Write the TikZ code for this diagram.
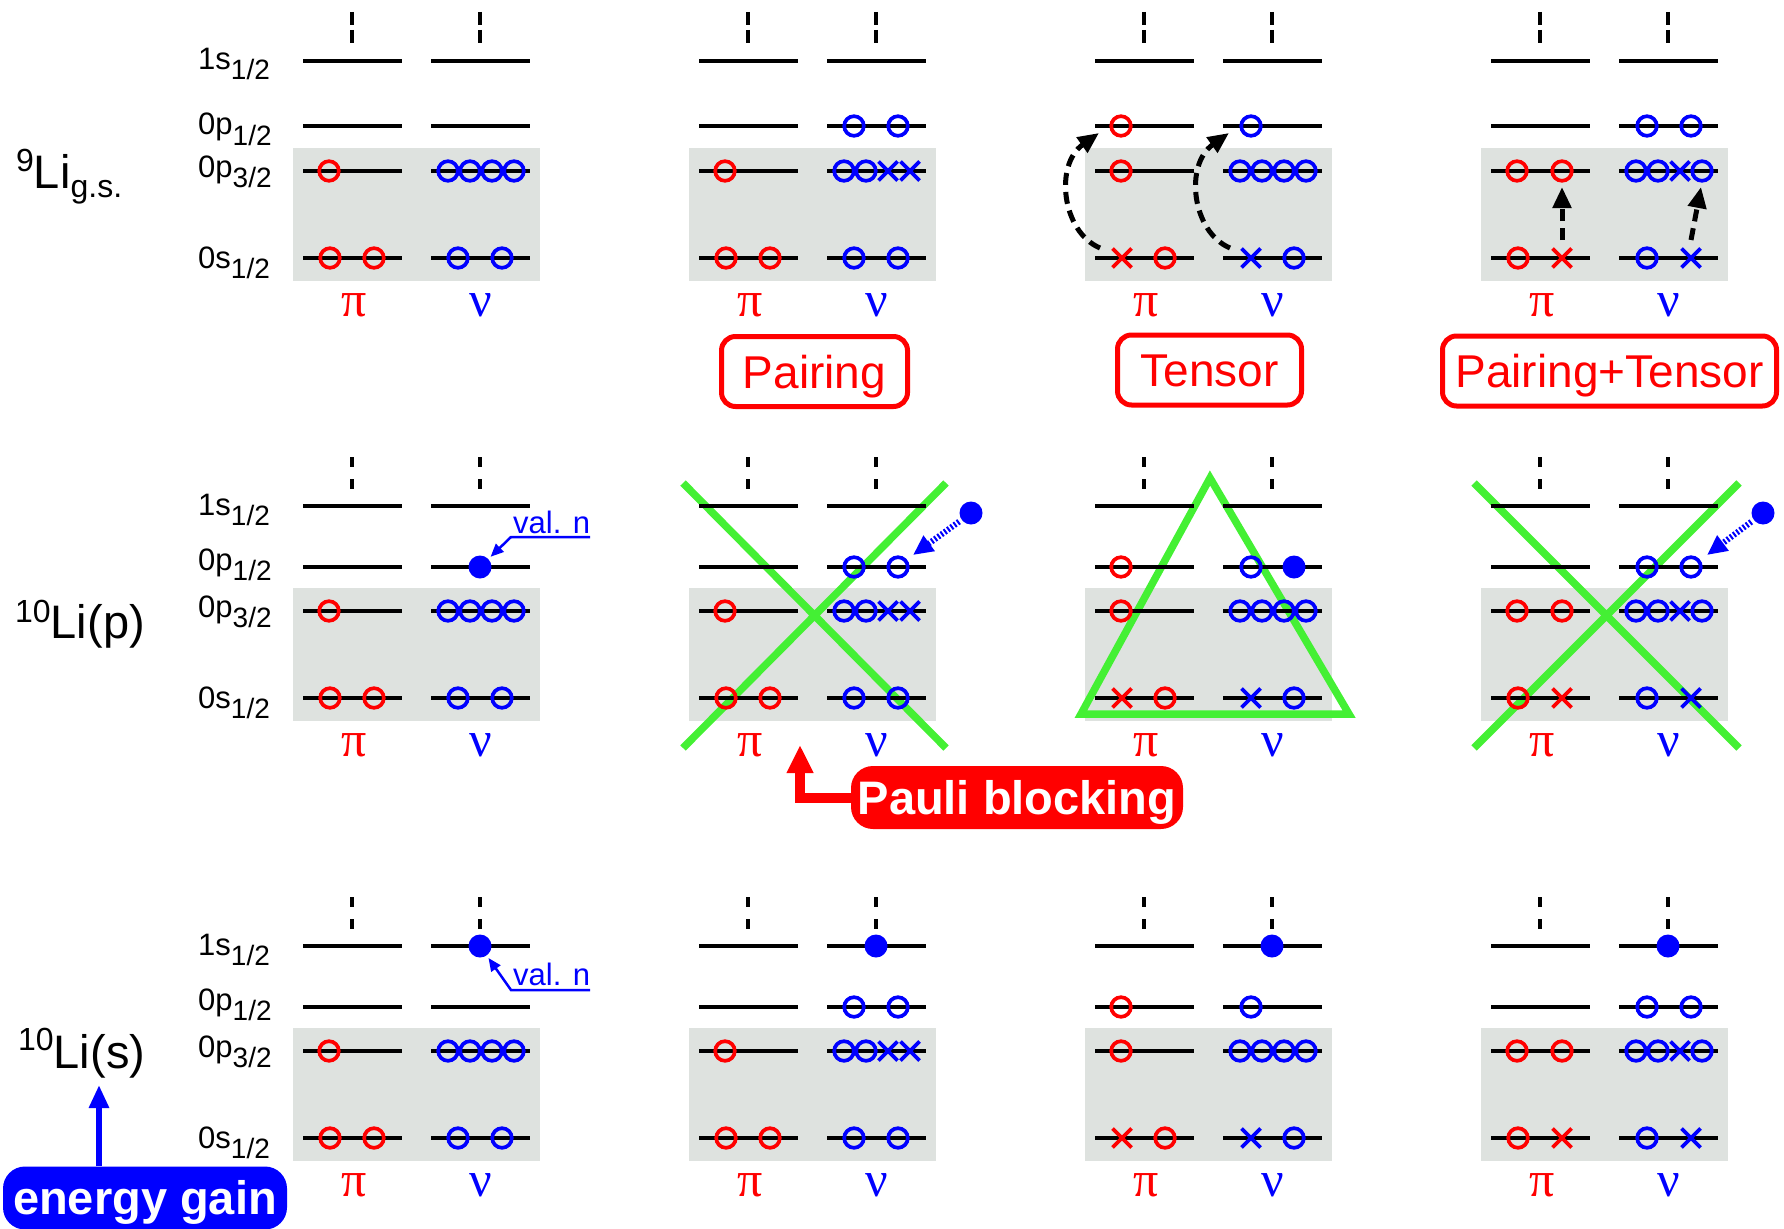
\documentclass[tikz,border=0pt]{standalone}
\usepackage{fontspec}
\setmainfont{Liberation Sans}
\newfontfamily\greekfont{Liberation Serif}
\usetikzlibrary{arrows.meta}

\definecolor{pired}{RGB}{255,0,0}
\definecolor{nublue}{RGB}{0,0,255}
\definecolor{coregray}{RGB}{222,226,223}
\definecolor{blockgreen}{RGB}{68,240,52}

\newcommand{\fsz}[1]{\fontsize{#1}{#1}\selectfont}
\newcommand{\lowsub}[1]{\raisebox{-10pt}{\fsz{28}#1}}

% occupied orbits (O) and vacancies (X)
\newcommand{\prO}[2]{\draw[pired,orbmark] (#1,#2) circle[radius=9.8pt];}
\newcommand{\nuO}[2]{\draw[nublue,orbmark] (#1,#2) circle[radius=9.8pt];}
\newcommand{\prX}[2]{\draw[pired,orbmark] ({#1-9.5},{#2-9.5}) -- ({#1+9.5},{#2+9.5}) ({#1-9.5},{#2+9.5}) -- ({#1+9.5},{#2-9.5});}
\newcommand{\nuX}[2]{\draw[nublue,orbmark] ({#1-9.5},{#2-9.5}) -- ({#1+9.5},{#2+9.5}) ({#1-9.5},{#2+9.5}) -- ({#1+9.5},{#2-9.5});}

% shaded core of one level scheme
\newcommand{\corebox}{\fill[coregray] (293,148) rectangle (540,281);}

% level lines, continuation dashes and the pi / nu column labels
% #1 1s1/2 height, #2 0p1/2 height, #3-#6 dash ends, #7 name suffix
\newcommand{\levels}[7]{%
  \foreach \cx in {352,480}{%
    \draw[shellline] ({\cx-49},#1) -- ({\cx+50},#1) ({\cx-49},#2) -- ({\cx+50},#2)
      ({\cx-49},171) -- ({\cx+50},171) ({\cx-49},258) -- ({\cx+50},258);
    \draw[dashline] (\cx,#3) -- (\cx,#4) (\cx,#5) -- (\cx,#6);
  }
  \node[pilab] (pi#7) at (354,305) {π};
  \node[nulab] (nu#7) at (481,305) {ν};
}

% occupations of the four configurations (#1 = height of 0p1/2)
\newcommand{\occgs}[1]{%
  \prO{329}{171}\prO{330}{258}\prO{374}{258}
  \nuO{448}{171}\nuO{470}{171}\nuO{492}{171}\nuO{514}{171}
  \nuO{458}{258}\nuO{502}{258}}
\newcommand{\occpair}[1]{%
  \prO{329}{171}\prO{330}{258}\prO{374}{258}
  \nuO{458}{#1}\nuO{502}{#1}
  \nuO{448}{171}\nuO{470}{171}\nuX{492}{171}\nuX{514}{171}
  \nuO{458}{258}\nuO{502}{258}}
\newcommand{\occtensor}[1]{%
  \prO{329}{#1}\prO{329}{171}\prX{330}{258}\prO{373}{258}
  \nuO{459}{#1}
  \nuO{448}{171}\nuO{470}{171}\nuO{492}{171}\nuO{514}{171}
  \nuX{459}{258}\nuO{502}{258}}
\newcommand{\occboth}[1]{%
  \prO{329}{171}\prO{374}{171}\prO{330}{258}\prX{374}{258}
  \nuO{459}{#1}\nuO{503}{#1}
  \nuO{448}{171}\nuO{470}{171}\nuX{492}{171}\nuO{514}{171}
  \nuO{459}{258}\nuX{503}{258}}

% orbit names on the left of each row
\newcommand{\orbitnames}[5]{%
  \node[statelab] (s1#5) at (198,#1) {1s\lowsub{1/2}};
  \node[statelab] (p1#5) at (198,#2) {0p\lowsub{1/2}};
  \node[statelab] (p3#5) at (198,#3) {0p\lowsub{3/2}};
  \node[statelab] (s0#5) at (198,#4) {0s\lowsub{1/2}};
}

\begin{document}
\begin{tikzpicture}[x=1pt,y=-1pt,
  shellline/.style={line width=3.2pt},
  dashline/.style={line width=3.8pt},
  orbmark/.style={line width=3.7pt},
  pilab/.style={text=pired, font=\greekfont\fsz{50}, inner sep=0pt},
  nulab/.style={text=nublue, font=\greekfont\fsz{50}, inner sep=0pt},
  statelab/.style={anchor=base west, inner sep=0pt, font=\fsz{31}},
  nuclab/.style={anchor=base west, inner sep=0pt, font=\fsz{47}},
  veto/.style={draw=blockgreen, line width=7.5pt},
  jump/.style={line width=5pt, dash pattern=on 12pt off 7pt, -{Triangle[length=21pt,width=18pt]}},
  feed/.style={nublue, line width=6pt, dash pattern=on 2pt off 2pt, shorten <=3pt, -{Triangle[length=20pt,width=18pt]}},
  valdot/.style={circle, fill=nublue, minimum size=23pt, inner sep=0pt},
  valtext/.style={anchor=base west, inner sep=0pt, text=nublue, font=\fsz{31}},
  valline/.style={nublue, line width=2.5pt, shorten >=3pt, -{Triangle[length=13pt,width=11pt]}},
  modelbox/.style={draw=pired, line width=5pt, rounded corners=14pt, text=pired, font=\fsz{46},
    minimum height=70pt, inner sep=0pt, text height=33pt, text depth=0pt},
  tagbox/.style={rounded corners=22pt, text=white, font=\bfseries\fsz{47}, inner sep=0pt,
    text height=33pt, text depth=0pt, minimum height=63pt},
  pauliarrow/.style={pired, line width=10pt, -{Triangle[length=28pt,width=25pt]}},
  gainarrow/.style={nublue, line width=6pt, -{Triangle[length=23pt,width=19pt]}}]
\useasboundingbox (0,0) rectangle (1784,1228);

% ---------------- 9Li ground state ----------------
\node[nuclab] (liA) at (16,188) {\raisebox{17pt}{\fsz{32}9}Li\raisebox{-9pt}{\fsz{32}g.s.}};
\orbitnames{70}{135}{177}{268}{A}
\begin{scope}
  \corebox \levels{61}{126}{12}{25}{30}{43}{A1} \occgs{126}
\end{scope}
\begin{scope}[shift={(396,0)}]
  \corebox \levels{61}{126}{12}{25}{30}{43}{A2} \occpair{126}
\end{scope}
\begin{scope}[shift={(792,0)}]
  \corebox \levels{61}{126}{12}{25}{30}{43}{A3} \occtensor{126}
  \coordinate (tpS) at (308,248); \coordinate (tpE) at (307,133);
  \coordinate (tnS) at (438,248); \coordinate (tnE) at (437,133);
  \draw[jump] (tpS) .. controls (270,232) and (262,165) .. (tpE);
  \draw[jump] (tnS) .. controls (400,232) and (392,165) .. (tnE);
\end{scope}
\begin{scope}[shift={(1188,0)}]
  \corebox \levels{61}{126}{12}{25}{30}{43}{A4} \occboth{126}
  \coordinate (bpS) at (374,240); \coordinate (bpE) at (374,187);
  \coordinate (bnS) at (503,240); \coordinate (bnE) at (513,187);
  \draw[jump] (bpS) -- (bpE);
  \draw[jump] (bnS) -- (bnE);
\end{scope}

% interaction labels
\node[modelbox, minimum width=186pt] (pairing) at (814.5,371.5) {Pairing};
\node[modelbox, minimum width=184pt] (tensor) at (1209.5,370) {Tensor};
\node[modelbox, minimum width=334pt] (pairtens) at (1609.5,371) {Pairing+Tensor};

% ---------------- 10Li, valence neutron in 0p1/2 ----------------
\begin{scope}[shift={(0,440)}]
  \node[nuclab] (liB) at (15,198) {\raisebox{16pt}{\fsz{32}10}Li(p)};
  \orbitnames{75}{130}{177}{268}{B}
\end{scope}
\begin{scope}[shift={(0,440)}]
  \corebox \levels{66}{127}{17}{27}{39}{49}{B1} \occgs{127}
  \node[valdot] (vdB1) at (480,127) {};
  \node[valtext] (valB) at (513,93) {val. n};
  \coordinate (ulBr) at (590,97); \coordinate (ulBl) at (511,97);
  \draw[valline] (ulBr) -- (ulBl) -- (vdB1);
\end{scope}
\begin{scope}[shift={(396,440)}]
  \corebox
  \draw[veto] (287,43) -- (550,308) (287,308) -- (550,43);
  \levels{66}{127}{17}{27}{39}{49}{B2} \occpair{127}
  \node[valdot] (vdB2) at (575,73) {};
  \coordinate (ftB2) at (517,115);
  \draw[feed] (vdB2) -- (ftB2);
\end{scope}
\begin{scope}[shift={(792,440)}]
  \corebox
  \draw[veto, line join=miter] (418,38) -- (557,274) -- (289,274) -- cycle;
  \levels{66}{127}{17}{27}{39}{49}{B3} \occtensor{127}
  \node[valdot] (vdB3) at (502,127) {};
\end{scope}
\begin{scope}[shift={(1188,440)}]
  \corebox
  \draw[veto] (286,43) -- (551,308) (286,308) -- (551,43);
  \levels{66}{127}{17}{27}{39}{49}{B4} \occboth{127}
  \node[valdot] (vdB4) at (575,73) {};
  \coordinate (ftB4) at (519,115);
  \draw[feed] (vdB4) -- (ftB4);
\end{scope}

% Pauli blocking tag
\node[tagbox, fill=pired, minimum width=332pt] (pauli) at (1017,797.5) {Pauli blocking};
\coordinate (pauliTip) at (800,745);
\draw[pauliarrow] (pauli.west) -| (pauliTip);

% ---------------- 10Li, valence neutron in 1s1/2 ----------------
\begin{scope}[shift={(0,880)}]
  \node[nuclab] (liC) at (18,188) {\raisebox{18pt}{\fsz{32}10}Li(s)};
  \orbitnames{75}{130}{177}{268}{C}
\end{scope}
\begin{scope}[shift={(0,880)}]
  \corebox \levels{66}{127}{17}{27}{39}{49}{C1} \occgs{127}
  \node[valdot] (vdC1) at (480,66) {};
  \node[valtext] (valC) at (513,105) {val. n};
  \coordinate (ulCr) at (590,110); \coordinate (ulCl) at (511,110);
  \draw[valline] (ulCr) -- (ulCl) -- (vdC1);
\end{scope}
\begin{scope}[shift={(396,880)}]
  \corebox \levels{66}{127}{17}{27}{39}{49}{C2} \occpair{127}
  \node[valdot] (vdC2) at (480,66) {};
\end{scope}
\begin{scope}[shift={(792,880)}]
  \corebox \levels{66}{127}{17}{27}{39}{49}{C3} \occtensor{127}
  \node[valdot] (vdC3) at (480,66) {};
\end{scope}
\begin{scope}[shift={(1188,880)}]
  \corebox \levels{66}{127}{17}{27}{39}{49}{C4} \occboth{127}
  \node[valdot] (vdC4) at (480,66) {};
\end{scope}

% energy gain tag
\node[tagbox, fill=nublue, minimum width=284pt] (gain) at (145,1198) {energy gain};
\coordinate (gainTip) at (99,1085);
\draw[gainarrow] (gainTip |- gain.north) -- (gainTip);
\end{tikzpicture}
\end{document}
